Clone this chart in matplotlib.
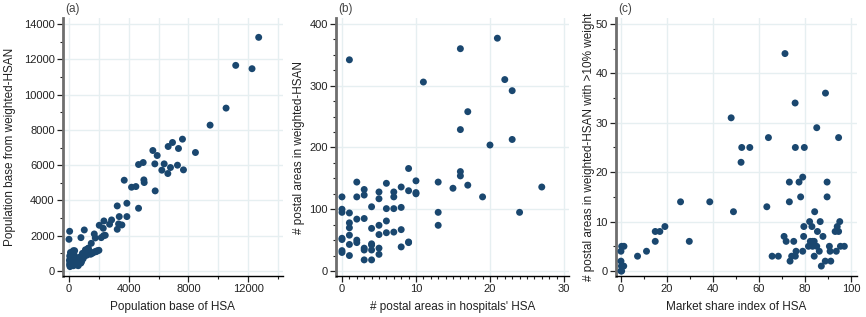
import matplotlib
matplotlib.use("Agg")
import matplotlib.pyplot as plt
import numpy as np
from matplotlib.ticker import MultipleLocator

plt.rcParams['font.family'] = ['Liberation Sans', 'DejaVu Sans']

# Panel (a): population base of HSA vs weighted-HSAN
a_x = [12711, 11172, 12265, 10526, 9455, 8474, 7604, 6936, 6646, 7337, 5620, 5910, 5753,
       6378, 7270, 6802, 6222, 6623, 7671, 4973, 4661, 3702, 5018, 5040, 4483, 4193, 5776,
       3880, 3234, 4661, 3880, 3367, 3323, 3546, 3234, 2854, 2721, 2342, 2029, 2297, 2431,
       2319, 2163, 1695, 1762, 1494, 1026, 803, 45, 0, 2007, 1829,
       290, 50, 80, 30, 60, 40, 70, 150, 200, 250, 350, 420, 480, 550, 600, 650, 700, 750,
       800, 850, 900, 950, 1000, 1050, 1100, 1150, 1200, 1250, 1300, 1350, 1400, 1450,
       1550, 1650, 1750, 1900, 180, 300, 100, 380, 700, 550, 900, 1100, 1200, 1300, 620, 760]
a_y = [13244, 11655, 11466, 9233, 8268, 6717, 7473, 7284, 7057, 6944, 6830, 6546, 6073,
       6073, 5998, 5865, 5714, 5525, 5733, 6149, 6036, 5146, 5165, 5014, 4787, 4749, 4541,
       3841, 3689, 3557, 3084, 3084, 2668, 2611, 2365, 2895, 2649, 2838, 2592, 2422, 2024,
       2005, 1892, 2100, 1873, 1570, 2327, 1892, 2251, 1797, 1173, 1097,
       1150, 850, 700, 600, 450, 350, 250, 800, 650, 550, 900, 700, 600, 400, 500, 750, 650, 800,
       450, 550, 900, 700, 1000, 850, 1200, 950, 1100, 1250, 1000, 1150, 1050, 950,
       1000, 1050, 1100, 1150, 380, 300, 1050, 1150, 500, 350, 1000, 1050, 900, 1300, 300, 600]

# Panel (b): # postal areas in hospitals' HSA vs in weighted-HSAN
b_x = [1, 16, 21, 11, 22, 23, 17, 16, 20, 23, 9, 16, 16, 17, 15, 13, 10, 19, 27, 24, 13, 13,
       10, 10, 9, 8, 8, 8, 8, 9, 9, 7, 7, 7, 7, 6, 6, 6, 6, 5, 5, 5, 5, 5, 5,
       4, 4, 4, 4, 4, 4, 3, 3, 3, 3, 3, 3, 2, 2, 2, 2, 2, 1, 1, 1, 1, 1, 1,
       0, 0, 0, 0, 0, 0, 0]
b_y = [342, 360, 377, 306, 310, 292, 258, 229, 204, 213, 166, 161, 154, 139, 134, 144, 146, 120,
       136, 95, 95, 74, 127, 125, 130, 136, 103, 67, 39, 47, 46, 128, 120, 101, 63, 142, 101,
       81, 62, 128, 117, 74, 59, 37, 27, 104, 69, 44, 42, 34, 18, 132, 123, 85, 37, 34, 18,
       144, 120, 84, 50, 46, 94, 78, 70, 58, 43, 25, 120, 100, 95, 53, 51, 33, 30]

# Panel (c): market share index of HSA vs # postal areas with >10% weight
c_x = [71.3, 88.9, 75.7, 47.9, 85.1, 64.1, 94.6, 52.5, 56.0, 75.8, 79.7, 52.2, 79.0, 73.2,
       77.4, 89.6, 78.1, 89.6, 25.9, 38.6, 73.2, 63.4, 48.9, 84.2, 82.0, 86.6, 95.1, 83.0,
       79.5, 94.0, 85.4, 93.1, 94.6, 14.9, 16.9, 19.1, 79.4, 87.8, 70.9, 14.9, 29.7, 71.8,
       75.1, 82.3, 83.3, 84.0, 81.5, 85.1, 90.6, 95.4, 97.1, 83.3, 0.3, 1.3, 0.0, 11.1, 76.1,
       79.0, 86.2, 90.9, 93.6, 65.7, 68.4, 74.2, 75.8, 84.0, 7.2, 0.0, 73.5, 88.8, 91.2,
       87.1, 1.2, 0.2, 0.0, 0.3]
c_y = [44, 36, 34, 31, 29, 27, 27, 25, 25, 25, 25, 22, 19, 18, 18, 18, 15, 15, 14, 14, 14,
       13, 12, 12, 10, 10, 10, 9, 9, 9, 8, 8, 8, 8, 8, 9, 7, 7, 7, 6, 6, 6, 6, 6, 6, 6, 5, 5,
       5, 5, 5, 5, 5, 5, 4, 4, 4, 4, 4, 4, 4, 3, 3, 3, 3, 3, 3, 2, 2, 2, 2, 1, 1, 1, 0, 0]

navy = '#1a476f'
grid_c = '#e6eff1'
W, H = 866, 317
fig = plt.figure(figsize=(W / 100, H / 100), dpi=100)


def make_ax(l, r, t, b):
    return fig.add_axes([l / W, 1 - b / H, (r - l) / W, (b - t) / H])


panels = [
    dict(box=(63, 283, 18, 276), x=a_x, y=a_y, xlim=(-400, 14340), ylim=(-283, 14340),
         xmaj=4000, xmin=2000, xgrid=2000, ymaj=2000, ymin=1000, ygrid=2000,
         xlabel='Population base of HSA', ylabel='Population base from weighted-HSAN',
         tag='(a)', ylx=16),
    dict(box=(336, 569, 18, 276), x=b_x, y=b_y, xlim=(-0.81, 30.68), ylim=(-8.1, 409.7),
         xmaj=10, xmin=1, xgrid=10, ymaj=100, ymin=25, ygrid=100,
         xlabel="# postal areas in hospitals' HSA", ylabel='# postal areas in weighted-HSAN',
         tag='(b)', ylx=305),
    dict(box=(616, 857, 18, 276), x=c_x, y=c_y, xlim=(-2.16, 102.6), ylim=(-1.01, 51.2),
         xmaj=20, xmin=10, xgrid=20, ymaj=10, ymin=5, ygrid=10,
         xlabel='Market share index of HSA', ylabel='# postal areas in weighted-HSAN with >10% weight',
         tag='(c)', ylx=595),
]

for p in panels:
    l, r, t, b = p['box']
    ax = make_ax(l, r, t, b)
    ax.set_xlim(*p['xlim'])
    ax.set_ylim(*p['ylim'])
    for gx in np.arange(0, p['xlim'][1], p['xgrid']):
        ax.axvline(gx, color=grid_c, lw=1.0, zorder=0)
    for gy in np.arange(0, p['ylim'][1], p['ygrid']):
        ax.axhline(gy, color=grid_c, lw=1.0, zorder=0)
    ax.scatter(p['x'], p['y'], s=25, color=navy, edgecolors='none', zorder=3)
    ax.xaxis.set_major_locator(MultipleLocator(p['xmaj']))
    ax.xaxis.set_minor_locator(MultipleLocator(p['xmin']))
    ax.yaxis.set_major_locator(MultipleLocator(p['ymaj']))
    ax.yaxis.set_minor_locator(MultipleLocator(p['ymin']))
    for s in ['top', 'right']:
        ax.spines[s].set_visible(False)
    ax.spines['left'].set_color('#6e6e6e')
    ax.spines['left'].set_linewidth(2.0)
    ax.spines['bottom'].set_color('black')
    ax.spines['bottom'].set_linewidth(1.0)
    ax.tick_params(which='major', length=4, width=0.9, labelsize=8, colors='#222222', pad=2)
    ax.tick_params(which='minor', length=2, width=0.8, colors='#222222')
    ax.set_xlabel(p['xlabel'], fontsize=8.5, color='#222222', labelpad=5)
    ax.set_ylabel(p['ylabel'], fontsize=8.5, color='#222222')
    ax.yaxis.set_label_coords((p['ylx'] - l) / (r - l), 0.5)
    fig.text((l + 2) / W, 1 - 9 / H, p['tag'], fontsize=8.5, color='#444444',
             ha='left', va='center')

fig.savefig('out.png', dpi=100)
